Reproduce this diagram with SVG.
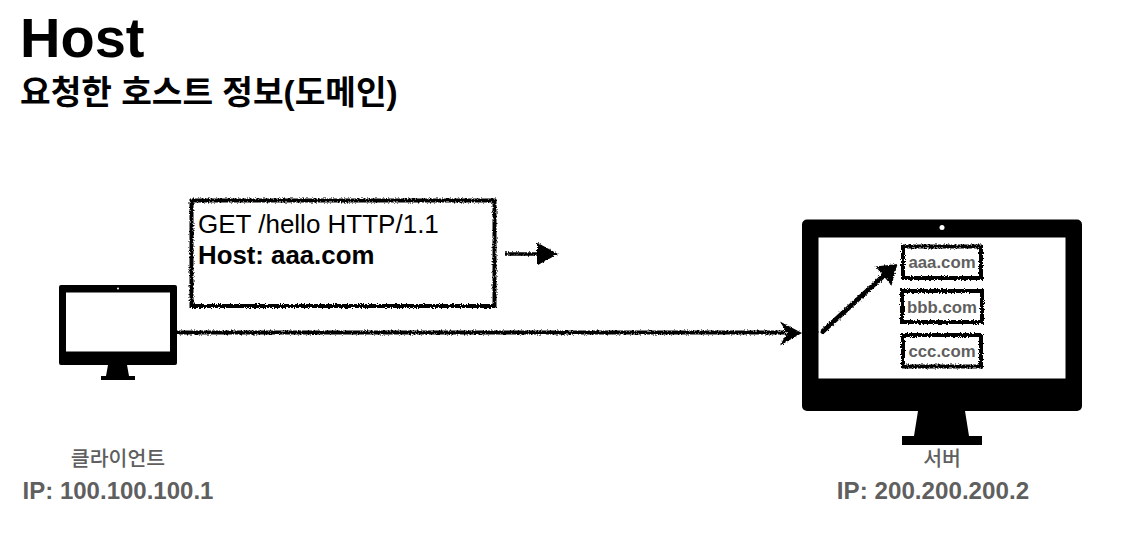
<svg xmlns="http://www.w3.org/2000/svg" width="1148" height="533" viewBox="0 0 1148 533">
<style>
.lat{font-family:"Liberation Sans",Arial,"Noto Sans CJK KR",sans-serif}
.cjk{font-family:"Liberation Sans","Noto Sans CJK KR",sans-serif}
.gray{fill:#5f5f5f;font-weight:700}
.box{fill:#fff;stroke:#000;stroke-width:4;filter:url(#rough)}
.dom{font-family:"Liberation Sans",Arial,sans-serif;font-size:16.8px;font-weight:700;fill:#5f5f5f;text-anchor:middle}
</style>
<defs>
<filter id="rough" x="0" y="0" width="1148" height="533" filterUnits="userSpaceOnUse" color-interpolation-filters="sRGB">
<feTurbulence type="fractalNoise" baseFrequency="0.7" numOctaves="2" seed="3" result="n"/>
<feDisplacementMap in="SourceGraphic" in2="n" scale="4" xChannelSelector="R" yChannelSelector="G"/>
</filter>
<filter id="roughLine" x="0" y="0" width="1148" height="533" filterUnits="userSpaceOnUse" color-interpolation-filters="sRGB">
<feTurbulence type="fractalNoise" baseFrequency="0.7" numOctaves="2" seed="5" result="n"/>
<feDisplacementMap in="SourceGraphic" in2="n" scale="3.500" xChannelSelector="R" yChannelSelector="G"/>
</filter>
</defs>
<rect width="1148" height="533" fill="#fff"/>
<g id="title">
<text class="lat" x="20" y="57" font-size="56" font-weight="700" fill="#000">Host</text>
<text class="cjk" x="20" y="104" font-size="33.300" font-weight="700" fill="#000">요청한 호스트 정보(도메인)</text>
</g>
<g id="client">
<path d="M61 285H175a2 2 0 0 1 2 2V363a2 2 0 0 1-2 2H61a2 2 0 0 1-2-2V287a2 2 0 0 1 2-2Z" fill="#000"/>
<rect x="66" y="292.500" width="104" height="59" fill="#fff"/>
<circle cx="118" cy="288.500" r="1" fill="#fff"/>
<path d="M108 365H127L129 376H135V380H101V376H106Z" fill="#000"/>
<text class="cjk" fill="#5f5f5f" font-weight="500" x="118" y="466" font-size="20.500" text-anchor="middle">클라이언트</text>
<text class="lat gray" x="118" y="499" font-size="24" text-anchor="middle">IP: 100.100.100.1</text>
</g>
<g id="server">
<path d="M807 219.500H1077a5 5 0 0 1 5 5V406a5 5 0 0 1-5 5H807a5 5 0 0 1-5-5V224.500a5 5 0 0 1 5-5Z" fill="#000"/>
<rect x="818.500" y="237.500" width="247" height="141" fill="#fff"/>
<circle cx="942" cy="227.500" r="2.500" fill="#fff"/>
<path d="M918 411H965L969 436H982V445H902V436H914Z" fill="#000"/>
<text class="cjk" fill="#5f5f5f" font-weight="500" x="942" y="466" font-size="20.500" text-anchor="middle">서버</text>
<text class="lat gray" x="933" y="499" font-size="24.200" text-anchor="middle">IP: 200.200.200.2</text>
</g>
<g id="request">
<rect class="box" x="191.500" y="200.500" width="303" height="105.500"/>
<text class="lat" x="198" y="233" font-size="26" fill="#000">GET /hello HTTP/1.1</text>
<text class="lat" x="198" y="264" font-size="25.800" font-weight="700" fill="#000">Host: aaa.com</text>
</g>
<g id="domain-aaa">
<rect class="box" x="903" y="246.500" width="78" height="31.500"/>
<text class="dom" x="942" y="268">aaa.com</text>
</g>
<g id="domain-bbb">
<rect class="box" x="902" y="291" width="80" height="31"/>
<text class="dom" x="942" y="313">bbb.com</text>
</g>
<g id="domain-ccc">
<rect class="box" x="903" y="335" width="78" height="31.500"/>
<text class="dom" x="942" y="357">ccc.com</text>
</g>
<g id="connectors" filter="url(#roughLine)">
<path d="M177 332.500H786" fill="none" stroke="#000" stroke-width="4"/>
<path d="M780 321.500L802 333L780 345.500L787 333Z" fill="#000"/>
<path d="M505 254H540" fill="none" stroke="#000" stroke-width="3.500"/>
<path d="M537 242.500L558 254L537 265.500Z" fill="#000"/>
<path d="M821 333L885 274.500" fill="none" stroke="#000" stroke-width="5"/>
<path d="M875.500 266.500L897.500 264L891.500 285.500Z" fill="#000"/>
</g>
</svg>
